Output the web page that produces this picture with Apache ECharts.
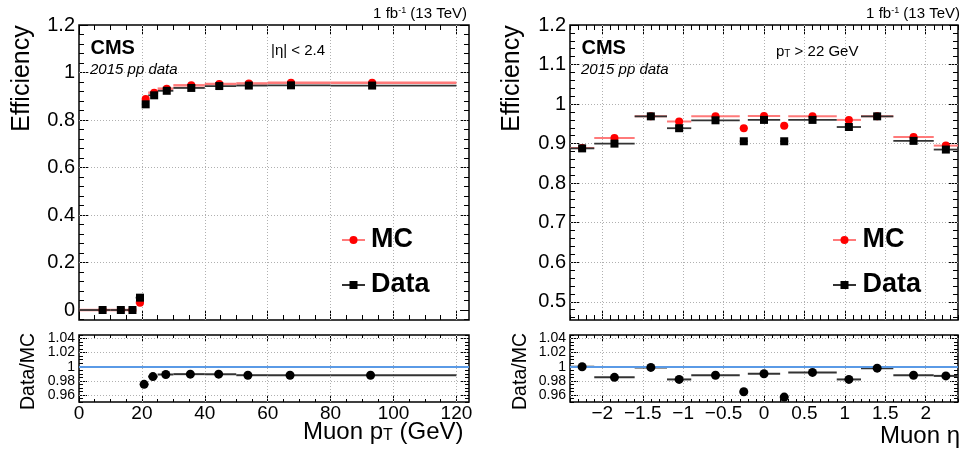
<!DOCTYPE html>
<html>
<head>
<meta charset="utf-8">
<script src="https://cdn.jsdelivr.net/npm/echarts@6/dist/echarts.min.js"></script>
<style>
  html, body { margin: 0; padding: 0; background: #fff; }
  #chart { width: 962px; height: 452px; }
</style>
</head>
<body>
<div id="chart"></div>
<script>
// ---- Efficiency vs muon pT (|eta| < 2.4) ----
const ptBinLow  = [0, 10, 15, 18, 20, 22, 25, 30, 40, 50, 60, 80];
const ptBinHigh = [10, 15, 18, 20, 22, 25, 30, 40, 50, 60, 80, 120];
const ptMean    = [7.5, 13.3, 17, 19.4, 21.2, 23.9, 27.9, 35.7, 44.6, 54, 67.4, 93.2];
const ptEffMC   = [0, 0, 0, 0.031, 0.888, 0.915, 0.932, 0.946, 0.952, 0.954, 0.957, 0.957];
const ptEffData = [0, 0, 0, 0.052, 0.866, 0.904, 0.923, 0.935, 0.943, 0.945, 0.946, 0.945];
// Data/MC ratio, only bins inside the ratio window (pT > 20 GeV)
const ptRatioBinLow  = [20, 22, 25, 30, 40, 50, 60, 80];
const ptRatioBinHigh = [22, 25, 30, 40, 50, 60, 80, 120];
const ptRatioMean    = [20.7, 23.5, 27.6, 35.4, 44.4, 53.7, 67.1, 92.7];
const ptRatio        = [0.975, 0.986, 0.989, 0.9895, 0.9895, 0.988, 0.988, 0.988];

// ---- Efficiency vs muon eta (pT > 22 GeV) ----
const etaBinLow  = [-2.4, -2.1, -1.6, -1.2, -0.9, -0.3, -0.2, 0.2, 0.3, 0.9, 1.2, 1.6, 2.1];
const etaBinHigh = [-2.1, -1.6, -1.2, -0.9, -0.3, -0.2, 0.2, 0.3, 0.9, 1.2, 1.6, 2.1, 2.4];
const etaCenter  = [-2.25, -1.85, -1.4, -1.05, -0.6, -0.25, 0, 0.25, 0.6, 1.05, 1.4, 1.85, 2.25];
const etaEffMC   = [0.889, 0.914, 0.969, 0.956, 0.969, 0.939, 0.970, 0.945, 0.969, 0.960, 0.969, 0.917, 0.895];
const etaEffData = [0.888, 0.900, 0.969, 0.939, 0.959, 0.906, 0.960, 0.906, 0.960, 0.942, 0.969, 0.907, 0.885];
const etaRatio   = [1.000, 0.985, 0.999, 0.982, 0.988, 0.9645, 0.990, 0.957, 0.992, 0.982, 0.998, 0.988, 0.987];

// ---- tick labels ----
const ptTicks     = [0, 20, 40, 60, 80, 100, 120];
const etaTicks    = [-2, -1.5, -1, -0.5, 0, 0.5, 1, 1.5, 2];
const effPtTicks  = [0, 0.2, 0.4, 0.6, 0.8, 1, 1.2];
const effEtaTicks = [0.5, 0.6, 0.7, 0.8, 0.9, 1, 1.1, 1.2];
const ratioTicks  = [0.96, 0.98, 1, 1.02, 1.04];

const FONT = '"Liberation Sans", Arial, Helvetica, sans-serif';
const MC_RED = '#ff0000';
const MC_BAR = '#ff7a7a';
const DATA_BAR = '#333333';
const GRID_LINE = { color: '#b0b0b0', type: [1, 2], width: 1 };

function stepValues(min, max, step) {
  const out = [];
  const i0 = Math.ceil(min / step - 1e-9), i1 = Math.floor(max / step + 1e-9);
  for (let i = i0; i <= i1; i++) out.push(+(i * step).toFixed(6));
  return out;
}
function fmt(v) {
  const s = String(+(+v).toFixed(4));
  return s.replace('-', '\u2212');
}

const xAxes = [], yAxes = [];
// Builds major + minor tick axes on both sides (ROOT-style frame ticks); returns index of the primary axis.
function addAxes(list, dim, grid, min, max, majors, minorStep, labelStyle, majLen, minLen) {
  const positions = dim === 'x' ? ['bottom', 'top'] : ['left', 'right'];
  const minors = stepValues(min, max, minorStep).filter(v => !majors.some(m => Math.abs(m - v) < 1e-9));
  let primary = -1;
  positions.forEach((pos, p) => {
    if (p === 0) primary = list.length;
    list.push({
      type: 'value', gridIndex: grid, position: pos, min: min, max: max,
      axisLine: { show: false, onZero: false },
      axisTick: { show: true, inside: true, length: majLen, customValues: majors, lineStyle: { color: '#000', width: 1 } },
      axisLabel: (p === 0 && labelStyle)
        ? Object.assign({ show: true, customValues: majors, formatter: fmt, fontFamily: FONT, color: '#000',
                          showMinLabel: true, showMaxLabel: true }, labelStyle)
        : { show: false },
      splitLine: { show: false }
    });
    list.push({
      type: 'value', gridIndex: grid, position: pos, min: min, max: max,
      axisLine: { show: false, onZero: false },
      axisTick: { show: true, inside: true, length: minLen, customValues: minors, lineStyle: { color: '#000', width: 1 } },
      axisLabel: { show: false }, splitLine: { show: false }
    });
  });
  return primary;
}

// grid 0: pT efficiency, grid 1: pT ratio, grid 2: eta efficiency, grid 3: eta ratio
const x0 = addAxes(xAxes, 'x', 0, 0, 124, ptTicks, 5, null, 9, 5);
const y0 = addAxes(yAxes, 'y', 0, -0.042, 1.2, effPtTicks, 0.04, { fontSize: 20, margin: 4 }, 9, 5);
const x1 = addAxes(xAxes, 'x', 1, 0, 124, ptTicks, 5, { fontSize: 19, margin: 2 }, 6, 3);
const y1 = addAxes(yAxes, 'y', 1, 0.95, 1.045, ratioTicks, 0.005, { fontSize: 14, margin: 4 }, 8, 4);
const x2 = addAxes(xAxes, 'x', 2, -2.4, 2.4, etaTicks, 0.1, null, 9, 5);
const y2 = addAxes(yAxes, 'y', 2, 0.454, 1.2, effEtaTicks, 0.02, { fontSize: 20, margin: 4 }, 9, 5);
const x3 = addAxes(xAxes, 'x', 3, -2.4, 2.4, etaTicks, 0.1, { fontSize: 19, margin: 2 }, 6, 3);
const y3 = addAxes(yAxes, 'y', 3, 0.95, 1.045, ratioTicks, 0.005, { fontSize: 14, margin: 4 }, 8, 4);

// Dotted grid lines at the major ticks, drawn beneath the points
function gridLines(xi, yi, xs, ys) {
  return {
    type: 'line', xAxisIndex: xi, yAxisIndex: yi, data: [], silent: true, z: 1,
    markLine: {
      silent: true, symbol: 'none', label: { show: false }, lineStyle: GRID_LINE, z: 1,
      data: xs.map(v => ({ xAxis: v })).concat(ys.map(v => ({ yAxis: v })))
    }
  };
}

function barRender(color, width) {
  return function (params, api) {
    const a = api.coord([api.value(0), api.value(2)]);
    const b = api.coord([api.value(1), api.value(2)]);
    return { type: 'line', shape: { x1: a[0], y1: a[1], x2: b[0], y2: b[1] },
             style: { stroke: color, lineWidth: width } };
  };
}
function bars(xi, yi, lo, hi, vals, color, width, z) {
  return { type: 'custom', xAxisIndex: xi, yAxisIndex: yi, silent: true, z: z,
           encode: { x: [0, 1], y: 2 },
           data: vals.map((v, i) => [lo[i], hi[i], v]),
           renderItem: barRender(color, width) };
}
function markers(xi, yi, xs, vals, symbol, size, color, z, extra) {
  return Object.assign({ type: 'scatter', xAxisIndex: xi, yAxisIndex: yi, silent: true, z: z,
           symbol: symbol, symbolSize: size, itemStyle: { color: color, opacity: 1 },
           data: vals.map((v, i) => [xs[i], v]) }, extra || {});
}
const unityLine = {
  markLine: { silent: true, symbol: 'none', label: { show: false },
              lineStyle: { color: '#5a9ae6', width: 2, type: 'solid' },
              data: [{ yAxis: 1 }] }
};

const series = [
  gridLines(x0, y0, ptTicks.slice(1, -1).concat([120]), effPtTicks.slice(1, -1)),
  gridLines(x1, y1, ptTicks.slice(1, -1).concat([120]), [0.96, 0.98, 1.02, 1.04]),
  gridLines(x2, y2, etaTicks, effEtaTicks.slice(0, -1)),
  gridLines(x3, y3, etaTicks, [0.96, 0.98, 1.02, 1.04]),

  bars(x0, y0, ptBinLow, ptBinHigh, ptEffMC, MC_BAR, 2.5, 3),
  bars(x0, y0, ptBinLow, ptBinHigh, ptEffData, DATA_BAR, 1.8, 4),
  markers(x0, y0, ptMean, ptEffMC, 'circle', 8, MC_RED, 5),
  markers(x0, y0, ptMean, ptEffData, 'rect', 8, '#000', 6),

  bars(x1, y1, ptRatioBinLow, ptRatioBinHigh, ptRatio, DATA_BAR, 2, 4),
  markers(x1, y1, ptRatioMean, ptRatio, 'circle', 9, '#000', 6, unityLine),

  bars(x2, y2, etaBinLow, etaBinHigh, etaEffMC, MC_BAR, 2, 3),
  bars(x2, y2, etaBinLow, etaBinHigh, etaEffData, DATA_BAR, 1.8, 4),
  markers(x2, y2, etaCenter, etaEffMC, 'circle', 8, MC_RED, 5),
  markers(x2, y2, etaCenter, etaEffData, 'rect', 8, '#000', 6),

  bars(x3, y3, etaBinLow, etaBinHigh, etaRatio, DATA_BAR, 2, 4),
  markers(x3, y3, etaCenter, etaRatio, 'circle', 9, '#000', 6, unityLine)
];

function txt(x, y, text, size, opts) {
  const o = opts || {};
  return {
    type: 'text', x: x, y: y, rotation: o.rotation || 0, z: 10, silent: true,
    style: Object.assign({
      text: text, fontSize: size, fontFamily: FONT, fill: '#000',
      fontWeight: o.weight || 'normal', fontStyle: o.style || 'normal',
      textAlign: o.align || 'left', align: o.align || 'left',
      textVerticalAlign: 'middle', verticalAlign: 'middle'
    }, o.rich ? { rich: o.rich } : {})
  };
}
function legendKey(xl, xr, y, lineColor, symbol, color) {
  const xm = (xl + xr) / 2;
  const shape = symbol === 'circle'
    ? { type: 'circle', shape: { cx: xm, cy: y, r: 4 }, style: { fill: color }, z: 11, silent: true }
    : { type: 'rect', shape: { x: xm - 4, y: y - 4, width: 8, height: 8 }, style: { fill: color }, z: 11, silent: true };
  return [
    { type: 'line', shape: { x1: xl, y1: y, x2: xr, y2: y }, style: { stroke: lineColor, lineWidth: 2 }, z: 10, silent: true },
    shape
  ];
}

const lumiRich = {
  a: { fontSize: 15, fontFamily: FONT, color: '#000' },
  s: { fontSize: 9, fontFamily: FONT, color: '#000', verticalAlign: 'top' }
};
const ptRich = {
  a: { fontSize: 15, fontFamily: FONT, color: '#000' },
  s: { fontSize: 10, fontFamily: FONT, color: '#000', verticalAlign: 'bottom' }
};
const xTitleRich = {
  a: { fontSize: 24, fontFamily: FONT, color: '#000' },
  s: { fontSize: 16, fontFamily: FONT, color: '#000', verticalAlign: 'bottom' }
};

const graphics = [
  // left panel texts
  txt(467, 14, '{a|1 fb}{s|-1}{a| (13 TeV)}', 15, { align: 'right', rich: lumiRich }),
  txt(90.5, 48, 'CMS', 20, { weight: 'bold' }),
  txt(90, 70, '2015 pp data', 15, { style: 'italic' }),
  txt(271, 51, '|\u03b7| < 2.4', 15),
  txt(21.7, 78.5, 'Efficiency', 25, { align: 'center', rotation: Math.PI / 2 }),
  txt(29, 371.5, 'Data/MC', 19.5, { align: 'center', rotation: Math.PI / 2 }),
  txt(463.5, 432, '{a|Muon p}{s|T}{a| (GeV)}', 24, { align: 'right', rich: xTitleRich }),
  txt(371, 240, 'MC', 27, { weight: 'bold' }),
  txt(371, 285, 'Data', 27, { weight: 'bold' }),
  ...legendKey(342, 365, 240, MC_BAR, 'circle', MC_RED),
  ...legendKey(342, 365, 285, DATA_BAR, 'rect', '#000'),

  // right panel texts
  txt(960, 14, '{a|1 fb}{s|-1}{a| (13 TeV)}', 15, { align: 'right', rich: lumiRich }),
  txt(581.5, 48, 'CMS', 20, { weight: 'bold' }),
  txt(581, 70, '2015 pp data', 15, { style: 'italic' }),
  txt(776, 52, '{a|p}{s|T}{a| > 22 GeV}', 15, { rich: ptRich }),
  txt(511.7, 78.5, 'Efficiency', 25, { align: 'center', rotation: Math.PI / 2 }),
  txt(521, 371.5, 'Data/MC', 19.5, { align: 'center', rotation: Math.PI / 2 }),
  txt(960, 436.5, 'Muon \u03b7', 24, { align: 'right' }),
  txt(862.5, 240, 'MC', 27, { weight: 'bold' }),
  txt(862.5, 285, 'Data', 27, { weight: 'bold' }),
  ...legendKey(833, 856, 240, MC_BAR, 'circle', MC_RED),
  ...legendKey(833, 856, 285, DATA_BAR, 'rect', '#000')
];

const frame = { show: true, borderColor: '#000', borderWidth: 1.5, backgroundColor: 'transparent' };
const option = {
  animation: false,
  backgroundColor: '#fff',
  grid: [
    Object.assign({ left: 79, top: 25, width: 390, height: 295 }, frame),
    Object.assign({ left: 79, top: 335, width: 390, height: 67 }, frame),
    Object.assign({ left: 570, top: 25, width: 388, height: 295 }, frame),
    Object.assign({ left: 570, top: 335, width: 388, height: 67 }, frame)
  ],
  xAxis: xAxes,
  yAxis: yAxes,
  series: series,
  graphic: { elements: graphics }
};

const chart = echarts.init(document.getElementById('chart'), null, { renderer: 'canvas' });
chart.setOption(option);
</script>
</body>
</html>
